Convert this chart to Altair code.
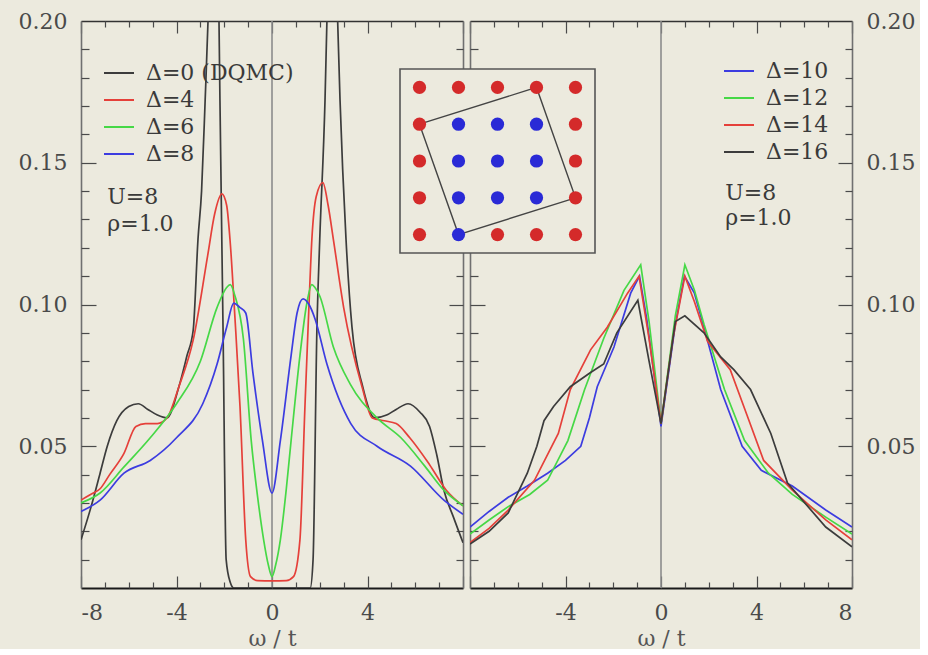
import altair as alt
import pandas as pd

BG = "#ECEADE"
FONT = "DejaVu Serif"
INK = "#3a3a3a"

# ---------------- left panel series (omega/t, A(omega)) ----------------
L0_W = [-8.0, -7.6, -7.2, -6.9, -6.5, -6.0, -5.6, -5.2, -4.8, -4.4, -3.9, -3.56, -3.3, -3.1, -2.95,
        -2.8, -2.68, -2.45, -2.22, -2.18, -2.05, -1.92, -1.75, -1.6, 0.0, 1.6, 1.72, 1.88, 2.0, 2.22,
        2.3, 2.55, 2.75, 2.85, 3.1, 3.35, 3.8, 4.3, 4.8, 5.2, 5.7, 6.2, 6.6, 6.9, 7.2, 7.6, 8.0]
L0_V = [0.017, 0.028, 0.0405, 0.050, 0.059, 0.064, 0.065, 0.063, 0.061, 0.060, 0.071, 0.082, 0.091, 0.123, 0.140,
        0.172, 0.200, 0.280, 0.200, 0.172, 0.091, 0.010, 0.002, 0.000, 0.000, 0.000, 0.010, 0.091, 0.123, 0.172,
        0.200, 0.270, 0.200, 0.172, 0.123, 0.092, 0.071, 0.060, 0.061, 0.063, 0.065, 0.062, 0.057, 0.047, 0.0345, 0.025, 0.016]

L4_W = [-8.0, -7.6, -7.2, -6.8, -6.2, -5.7, -5.3, -4.8, -4.4, -3.9, -3.3, -2.7, -2.4, -2.1, -1.9,
        -1.76, -1.55, -1.34, -1.1, -0.9, -0.6, 0.0, 0.6, 0.9, 1.17, 1.38, 1.55, 1.67, 1.85, 2.13,
        2.35, 2.57, 3.0, 3.77, 4.2, 4.7, 5.2, 5.77, 6.6, 7.3, 8.0]
L4_V = [0.031, 0.033, 0.035, 0.040, 0.0475, 0.057, 0.058, 0.058, 0.060, 0.071, 0.0875, 0.117, 0.132, 0.139, 0.135,
        0.123, 0.095, 0.064, 0.017, 0.004, 0.0026, 0.0025, 0.0026, 0.004, 0.017, 0.064, 0.100, 0.123, 0.138, 0.143,
        0.135, 0.123, 0.099, 0.071, 0.060, 0.059, 0.058, 0.053, 0.0435, 0.0345, 0.029]

L6_W = [-8.0, -7.2, -6.2, -5.1, -4.0, -3.0, -2.3, -1.9, -1.75, -1.55, -1.2, -0.87, -0.6, -0.35, -0.15,
        0.0, 0.15, 0.35, 0.6, 0.8, 1.17, 1.45, 1.67, 1.8, 2.0, 2.57, 3.27, 4.4, 5.4, 6.4, 7.2, 8.0]
L6_V = [0.030, 0.0335, 0.0427, 0.053, 0.065, 0.080, 0.099, 0.106, 0.107, 0.103, 0.088, 0.052, 0.032, 0.017, 0.008,
        0.004, 0.008, 0.017, 0.035, 0.052, 0.082, 0.100, 0.107, 0.106, 0.103, 0.085, 0.072, 0.060, 0.053, 0.043, 0.0345, 0.029]

L8_W = [-8.0, -7.2, -6.2, -5.1, -4.0, -2.9, -2.3, -1.9, -1.6, -1.35, -1.1, -0.8, -0.4, 0.0, 0.35,
        0.8, 1.05, 1.3, 1.55, 1.8, 2.3, 3.3, 4.4, 5.8, 7.2, 8.0]
L8_V = [0.027, 0.031, 0.0405, 0.045, 0.053, 0.065, 0.079, 0.092, 0.1005, 0.099, 0.097, 0.076, 0.052, 0.0335, 0.052,
        0.082, 0.097, 0.102, 0.100, 0.095, 0.079, 0.058, 0.050, 0.043, 0.031, 0.026]

# ---------------- right panel series ----------------
R10_W = [-8.0, -7.2, -6.4, -5.6, -4.75, -4.0, -3.36, -3.0, -2.67, -1.97, -1.27, -0.9, -0.6, 0.0, 0.6,
         0.98, 1.4, 1.8, 2.5, 3.4, 4.2, 5.5, 6.9, 8.0]
R10_V = [0.0215, 0.027, 0.032, 0.036, 0.0405, 0.045, 0.050, 0.060, 0.071, 0.085, 0.104, 0.110, 0.095, 0.057, 0.093,
         0.110, 0.104, 0.092, 0.070, 0.050, 0.0415, 0.036, 0.0275, 0.0215]

R12_W = [-8.0, -7.2, -6.4, -5.5, -4.75, -3.9, -3.2, -2.4, -1.55, -0.85, -0.5, 0.0, 0.6, 1.0, 1.4,
         1.8, 2.66, 3.5, 4.5, 5.5, 6.9, 8.0]
R12_V = [0.019, 0.024, 0.0287, 0.033, 0.038, 0.052, 0.070, 0.088, 0.105, 0.114, 0.094, 0.058, 0.096, 0.114, 0.105,
         0.093, 0.070, 0.052, 0.0405, 0.033, 0.025, 0.019]

R14_W = [-8.0, -7.2, -6.4, -5.3, -4.3, -3.8, -2.95, -2.25, -1.4, -0.92, -0.5, 0.0, 0.5, 1.0, 1.4,
         1.95, 2.9, 3.6, 4.3, 5.5, 6.9, 8.0]
R14_V = [0.016, 0.021, 0.0275, 0.038, 0.0545, 0.070, 0.084, 0.092, 0.104, 0.110, 0.088, 0.058, 0.088, 0.110, 0.101,
         0.087, 0.077, 0.061, 0.045, 0.0345, 0.024, 0.017]

R16_W = [-8.0, -7.2, -6.4, -5.6, -5.2, -4.9, -4.5, -3.8, -2.95, -2.4, -1.85, -0.97, -0.5, 0.0, 0.6,
         1.0, 1.8, 2.5, 3.05, 3.75, 4.6, 5.3, 6.9, 8.0]
R16_V = [0.0155, 0.020, 0.0265, 0.0405, 0.050, 0.059, 0.064, 0.071, 0.076, 0.079, 0.090, 0.1015, 0.080, 0.058, 0.094,
         0.096, 0.090, 0.0815, 0.077, 0.070, 0.0545, 0.037, 0.0215, 0.0145]

LEFT_NAMES = ["Δ=0 (DQMC)", "Δ=4", "Δ=6", "Δ=8"]
LEFT_COLORS = ["#3c3c3c", "#e5403a", "#46d846", "#3c3ce0"]
RIGHT_NAMES = ["Δ=10", "Δ=12", "Δ=14", "Δ=16"]
RIGHT_COLORS = ["#3c3ce0", "#46d846", "#e5403a", "#3c3c3c"]

# annotations (data coordinates)
L_TXT = ["U=8", "ρ=1.0"]
L_TXT_W = [-6.9, -6.9]
L_TXT_V = [0.138, 0.1285]
R_TXT = ["U=8", "ρ=1.0"]
R_TXT_W = [2.69, 2.69]
R_TXT_V = [0.1395, 0.1305]

# axis tick values
X_MAJOR = [-8, -4, 0, 4, 8]
X_MINOR = [-7, -6, -5, -3, -2, -1, 1, 2, 3, 5, 6, 7]
Y_MAJOR = [0.05, 0.10, 0.15]
Y_MINOR = [0.01, 0.02, 0.03, 0.04, 0.06, 0.07, 0.08, 0.09, 0.11, 0.12, 0.13, 0.14, 0.16, 0.17, 0.18, 0.19]
Y_LABELS = [0.05, 0.10, 0.15, 0.20]
L_XLABELS = [-8, -4, 0, 4]
R_XLABELS = [-4, 0, 4, 8]

# inset: 5x5 lattice (col, row, kind) and tilted 10-site cluster
SITE_COL = [0, 1, 2, 3, 4,  0, 1, 2, 3, 4,  0, 1, 2, 3, 4,  0, 1, 2, 3, 4,  0, 1, 2, 3, 4]
SITE_ROW = [0, 0, 0, 0, 0,  1, 1, 1, 1, 1,  2, 2, 2, 2, 2,  3, 3, 3, 3, 3,  4, 4, 4, 4, 4]
SITE_KIND = ["out", "out", "out", "out", "out",
             "out", "in", "in", "in", "out",
             "out", "in", "in", "in", "out",
             "out", "in", "in", "in", "out",
             "out", "in", "out", "out", "out"]
CLUSTER_COL = [0, 3, 4, 1, 0]
CLUSTER_ROW = [1, 0, 3, 4, 1]
BOX_LO = [-0.5]
BOX_HI = [4.5]

W_PX = 382
H_PX = 567

XS = alt.Scale(domain=[-8, 8], nice=False, zero=False)
YS = alt.Scale(domain=[0, 0.2], nice=False, zero=False)
FRAME = pd.DataFrame({"w": [-8, 8], "v": [0.0, 0.2]})


def series_df(names, pairs):
    frames = []
    for k, (name, (ws, vs)) in enumerate(zip(names, pairs)):
        frames.append(pd.DataFrame({"w": ws, "v": vs, "s": name, "k": k}))
    return pd.concat(frames, ignore_index=True)


def tick_axis(orient, values, size, color="#4a4a4a", width=1.2):
    return alt.Axis(orient=orient, values=values, offset=-size, tickSize=size, ticks=True,
                    domain=False, labels=False, grid=False, title=None,
                    tickColor=color, tickWidth=width)


def axis_layer(xaxis, yaxis):
    return alt.Chart(FRAME).mark_point(opacity=0).encode(
        x=alt.X("w:Q", scale=XS, axis=xaxis),
        y=alt.Y("v:Q", scale=YS, axis=yaxis),
    )


def panel(names, colors, pairs, txt, txt_w, txt_v, xlabels, ylab_orient, legend_x, legend_y,
          row_pad, interp, extra=()):
    df = series_df(names, pairs)
    zero = alt.Chart(pd.DataFrame({"w": [0]})).mark_rule(color="#8c8c8c", strokeWidth=1.6).encode(
        x=alt.X("w:Q", scale=XS, axis=None)
    )
    curves = alt.Chart(df).mark_line(strokeWidth=1.7, clip=True, interpolate=interp).encode(
        x=alt.X("w:Q", scale=XS, axis=None),
        y=alt.Y("v:Q", scale=YS, axis=None),
        color=alt.Color("s:N", scale=alt.Scale(domain=names, range=colors),
                        legend=alt.Legend(orient="none", legendX=legend_x, legendY=legend_y, title=None,
                                          symbolType="stroke", symbolSize=900, symbolStrokeWidth=2,
                                          labelFont=FONT, labelFontSize=22, labelColor=INK,
                                          rowPadding=row_pad, labelOffset=11, padding=0)),
        detail="k:N",
    )
    text = alt.Chart(pd.DataFrame({"t": txt, "w": txt_w, "v": txt_v})).mark_text(
        align="left", baseline="middle", font=FONT, fontSize=22, color=INK
    ).encode(
        x=alt.X("w:Q", scale=XS, axis=None),
        y=alt.Y("v:Q", scale=YS, axis=None),
        text="t:N",
    )
    left_lab = ylab_orient == "left"
    ylab_axis = alt.Axis(orient=ylab_orient, values=Y_LABELS, format=".2f", ticks=False, tickSize=0,
                         domain=True, domainColor="#707070", domainWidth=1.6, labels=True,
                         labelFont=FONT, labelFontSize=22, labelColor="#4a4a4a", labelPadding=14,
                         grid=False, title=None)
    yplain_axis = alt.Axis(orient="right" if left_lab else "left", ticks=False, tickSize=0, labels=False,
                           domain=True, domainColor="#707070", domainWidth=1.6, grid=False, title=None)
    xbottom = alt.Axis(orient="bottom", values=xlabels, ticks=False, tickSize=0, domain=True,
                       domainColor="#1a1a1a", domainWidth=2.2, labels=True, labelFont=FONT,
                       labelFontSize=22, labelColor="#4a4a4a", labelPadding=14,
                       labelExpr="replace(datum.label, '\u2212', '-')",
                       title="ω / t", titleFont=FONT, titleFontSize=22, titleFontWeight="normal",
                       titleColor="#555555", titlePadding=5, grid=False)
    xtop = alt.Axis(orient="top", ticks=False, tickSize=0, labels=False, domain=True,
                    domainColor="#333333", domainWidth=1.6, grid=False, title=None)
    yl = "left"
    yr = "right"
    layers = [
        zero,
        curves,
        text,
        axis_layer(xbottom, ylab_axis),
        axis_layer(xtop, yplain_axis),
        axis_layer(tick_axis("bottom", X_MAJOR, 12), tick_axis(yl, Y_MAJOR, 15)),
        axis_layer(tick_axis("bottom", X_MINOR, 6), tick_axis(yl, Y_MINOR, 8)),
        axis_layer(tick_axis("top", X_MAJOR, 12), tick_axis(yr, Y_MAJOR, 14)),
        axis_layer(tick_axis("top", X_MINOR, 6), tick_axis(yr, Y_MINOR, 7)),
    ]
    layers.extend(extra)
    return alt.layer(*layers).resolve_scale(x="independent", y="independent").properties(
        width=W_PX, height=H_PX
    )


# inset layers (placed in right panel, pixel ranges reaching left over the gap)
IXS = alt.Scale(domain=[-0.5, 4.5], range=[-70, 125], nice=False, zero=False)
IYS = alt.Scale(domain=[-0.5, 4.5], range=[48, 232], nice=False, zero=False)

inset_box = alt.Chart(pd.DataFrame({"lo": BOX_LO, "hi": BOX_HI})).mark_rect(
    fill=BG, stroke="#555555", strokeWidth=1.6
).encode(
    x=alt.X("lo:Q", scale=IXS, axis=None), x2="hi:Q",
    y=alt.Y("lo:Q", scale=IYS, axis=None), y2="hi:Q",
)
cluster = alt.Chart(pd.DataFrame({"c": CLUSTER_COL, "r": CLUSTER_ROW, "o": list(range(len(CLUSTER_COL)))})).mark_line(
    color="#444444", strokeWidth=1.4
).encode(
    x=alt.X("c:Q", scale=IXS, axis=None),
    y=alt.Y("r:Q", scale=IYS, axis=None),
    order="o:Q",
)
sites = alt.Chart(pd.DataFrame({"c": SITE_COL, "r": SITE_ROW, "kind": SITE_KIND})).mark_circle(
    size=175, opacity=1
).encode(
    x=alt.X("c:Q", scale=IXS, axis=None),
    y=alt.Y("r:Q", scale=IYS, axis=None),
    fill=alt.Fill("kind:N", scale=alt.Scale(domain=["out", "in"], range=["#d42a2a", "#2a2ad6"]), legend=None),
)

left = panel(LEFT_NAMES, LEFT_COLORS,
             [(L0_W, L0_V), (L4_W, L4_V), (L6_W, L6_V), (L8_W, L8_V)],
             L_TXT, L_TXT_W, L_TXT_V, L_XLABELS, "left", 22, 36, 0, "monotone")
right = panel(RIGHT_NAMES, RIGHT_COLORS,
              [(R10_W, R10_V), (R12_W, R12_V), (R14_W, R14_V), (R16_W, R16_V)],
              R_TXT, R_TXT_W, R_TXT_V, R_XLABELS, "right", 253, 34, -1, "linear",
              extra=(inset_box, cluster, sites))

chart = alt.hconcat(left, right, spacing=7, bounds="flush").resolve_scale(
    color="independent", fill="independent"
).properties(
    background=BG,
    padding={"left": 18, "top": 10, "right": 5, "bottom": 0},
).configure_view(stroke=None)

chart.save("out.html", embed_options={"renderer": "svg", "actions": False})
